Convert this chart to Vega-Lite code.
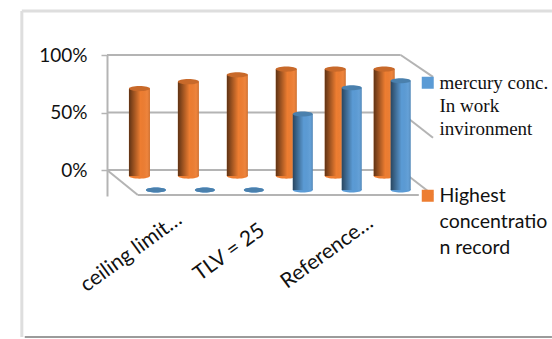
{
  "$schema": "https://vega.github.io/schema/vega-lite/v6.json",
  "width": 326,
  "height": 141,
  "autosize": "none",
  "padding": {"left": 107, "top": 55, "right": 119, "bottom": 143},
  "background": "white",
  "config": {"view": {"stroke": null}},
  "datasets": {
    "shares": [
      {"item": 1, "series": "Highest concentration record", "share": 0.76},
      {"item": 2, "series": "Highest concentration record", "share": 0.82},
      {"item": 3, "series": "Highest concentration record", "share": 0.88},
      {"item": 4, "series": "Highest concentration record", "share": 0.93},
      {"item": 5, "series": "Highest concentration record", "share": 0.93},
      {"item": 6, "series": "Highest concentration record", "share": 0.93},
      {"item": 1, "series": "mercury conc. In work invironment", "share": 0},
      {"item": 2, "series": "mercury conc. In work invironment", "share": 0},
      {"item": 3, "series": "mercury conc. In work invironment", "share": 0},
      {"item": 4, "series": "mercury conc. In work invironment", "share": 0.66},
      {"item": 5, "series": "mercury conc. In work invironment", "share": 0.89},
      {"item": 6, "series": "mercury conc. In work invironment", "share": 0.95}
    ],
    "box": [
      {"x": 0, "x2": 6, "y": 1, "y2": 1},
      {"x": 0, "x2": 6, "y": 0.5, "y2": 0.5},
      {"x": 0, "x2": 6, "y": 0, "y2": 0},
      {"x": 6, "x2": 6.66, "y": 1, "y2": 0.81},
      {"x": 6, "x2": 6.66, "y": 0.5, "y2": 0.28},
      {"x": 6, "x2": 6.66, "y": 0, "y2": -0.217},
      {"x": 0, "x2": 0.63, "y": 0, "y2": -0.217},
      {"x": 0.63, "x2": 6.37, "y": -0.217, "y2": -0.217}
    ],
    "frameLight": [
      {"x": -1.74, "x2": -1.74, "y": 1.383, "y2": -1.452},
      {"x": -1.74, "x2": 9.09, "y": 1.383, "y2": 1.383}
    ],
    "frameDark": [
      {"x": -1.68, "x2": 9.09, "y": -1.452, "y2": -1.452}
    ]
  },
  "layer": [
    {
      "data": {"name": "frameLight"},
      "mark": {"type": "rule", "color": "#dedede", "strokeWidth": 3},
      "encoding": {
        "x": {"field": "x", "type": "quantitative", "scale": {"domain": [0, 6.66], "nice": false, "zero": false, "padding": 0}, "title": null,
          "axis": {
            "values": [1, 3, 5], "grid": false, "domain": false, "ticks": false,
            "labelExpr": "datum.value == 1 ? 'ceiling limit…' : datum.value == 3 ? 'TLV = 25' : 'Reference…'",
            "labelAngle": -36, "labelAlign": "center", "labelBaseline": "middle", "labelPadding": 56, "labelOffset": -25,
            "labelFont": "Lato", "labelFontSize": 21, "labelColor": "#111111", "labelOverlap": false, "labelFlush": false, "labelLimit": 200
          }
        },
        "x2": {"field": "x2"},
        "y": {"field": "y", "type": "quantitative", "scale": {"domain": [-0.226, 1], "nice": false, "zero": false, "padding": 0}, "title": null,
          "axis": {
            "values": [0, 0.5, 1], "format": ".0%", "grid": false,
            "domain": true, "domainColor": "#b4b4b4", "domainWidth": 2,
            "ticks": true, "tickColor": "#b4b4b4", "tickSize": 6, "tickWidth": 1.5,
            "labelPadding": 14, "labelFont": "Lato", "labelFontSize": 19, "labelColor": "#111111"
          }
        },
        "y2": {"field": "y2"}
      }
    },
    {
      "data": {"name": "frameDark"},
      "mark": {"type": "rule", "color": "#7a7a7a", "strokeWidth": 1.5},
      "encoding": {
        "x": {"field": "x", "type": "quantitative"},
        "x2": {"field": "x2"},
        "y": {"field": "y", "type": "quantitative"},
        "y2": {"field": "y2"}
      }
    },
    {
      "data": {"name": "box"},
      "mark": {"type": "rule", "color": "#b4b4b4", "strokeWidth": 2},
      "encoding": {
        "x": {"field": "x", "type": "quantitative"},
        "x2": {"field": "x2"},
        "y": {"field": "y", "type": "quantitative"},
        "y2": {"field": "y2"}
      }
    },
    {
      "data": {"name": "shares"},
      "transform": [{"filter": "datum.series == 'Highest concentration record'"}],
      "encoding": {
        "x": {"field": "item", "type": "quantitative"},
        "y": {"field": "share", "type": "quantitative"}
      },
      "layer": [
        {
          "mark": {"type": "point", "shape": "M-1,0A1,0.25,0,1,1,1,0A1,0.25,0,1,1,-1,0Z", "filled": true, "opacity": 1, "size": 441, "xOffset": -16.5, "yOffset": 6, "color": "#ed7d31"},
          "encoding": {
            "y": {"datum": 0, "type": "quantitative"}
          }
        },
        {
          "mark": {"type": "bar", "orient": "vertical", "size": 21, "xOffset": -16.5, "yOffset": 6, "y2Offset": 6},
          "encoding": {
            "y2": {"datum": 0},
            "color": {
              "field": "series", "type": "nominal",
              "scale": {
                "domain": ["mercury conc. In work invironment", "Highest concentration record"],
                "range": ["#5b9bd5", "#ed7d31"]
              },
              "title": null,
              "legend": {
                "orient": "none", "legendX": 311, "legendY": 18,
                "symbolType": "square", "symbolSize": 144, "symbolStrokeWidth": 0, "symbolOpacity": 1,
                "labelOffset": 2, "labelLimit": 200, "labelFontSize": 18, "labelColor": "#111111", "labelFont": "Lato", "rowPadding": 46,
                "labelExpr": "indexof(datum.label, 'mercury') >= 0 ? ['mercury conc.', 'In work', 'invironment'] : ['Highest', 'concentratio', 'n record']",
                "labelBaseline": "alphabetic",
                "encoding": {"labels": {
                  "font": {"value": {"expr": "datum.index == 0 ? 'Liberation Serif' : 'Lato'"}},
                  "fontSize": {"value": {"expr": "datum.index == 0 ? 19 : 19.5"}},
                  "lineHeight": {"value": {"expr": "datum.index == 0 ? 23 : 26"}},
                  "dy": {"value": 6}
                }}
              }
            }
          }
        },
        {
          "mark": {"type": "bar", "orient": "vertical", "size": 21, "xOffset": -16.5, "yOffset": 6, "y2Offset": 6,
            "color": {"gradient": "linear", "x1": 0, "y1": 0, "x2": 1, "y2": 0, "stops": [
              {"offset": 0, "color": "rgba(0,0,0,0.6)"},
              {"offset": 0.55, "color": "rgba(0,0,0,0)"},
              {"offset": 0.85, "color": "rgba(255,255,255,0.05)"},
              {"offset": 1, "color": "rgba(0,0,0,0.15)"}
            ]}
          },
          "encoding": {"y2": {"datum": 0}}
        },
        {
          "mark": {"type": "point", "shape": "M-1,0A1,0.25,0,1,1,1,0A1,0.25,0,1,1,-1,0Z", "filled": true, "opacity": 1, "size": 441, "xOffset": -16.5, "yOffset": 6, "color": "#c8692a"}
        }
      ]
    },
    {
      "data": {"name": "shares"},
      "transform": [{"filter": "datum.series != 'Highest concentration record'"}],
      "encoding": {
        "x": {"field": "item", "type": "quantitative"},
        "y": {"field": "share", "type": "quantitative"}
      },
      "layer": [
        {
          "mark": {"type": "point", "shape": "M-1,0A1,0.25,0,1,1,1,0A1,0.25,0,1,1,-1,0Z", "filled": true, "opacity": 1, "size": 400, "yOffset": 20, "color": "#5b9bd5"},
          "encoding": {"y": {"datum": 0, "type": "quantitative"}}
        },
        {
          "mark": {"type": "bar", "orient": "vertical", "size": 20, "yOffset": 20, "y2Offset": 20, "color": "#5b9bd5"},
          "encoding": {"y2": {"datum": 0}}
        },
        {
          "mark": {"type": "bar", "orient": "vertical", "size": 20, "yOffset": 20, "y2Offset": 20,
            "color": {"gradient": "linear", "x1": 0, "y1": 0, "x2": 1, "y2": 0, "stops": [
              {"offset": 0, "color": "rgba(0,0,0,0.55)"},
              {"offset": 0.55, "color": "rgba(0,0,0,0)"},
              {"offset": 0.85, "color": "rgba(255,255,255,0.05)"},
              {"offset": 1, "color": "rgba(0,0,0,0.15)"}
            ]}
          },
          "encoding": {"y2": {"datum": 0}}
        },
        {
          "mark": {"type": "point", "shape": "M-1,0A1,0.25,0,1,1,1,0A1,0.25,0,1,1,-1,0Z", "filled": true, "opacity": 1, "size": 400, "yOffset": 20, "color": "#4a80ad"}
        }
      ]
    }
  ]
}
